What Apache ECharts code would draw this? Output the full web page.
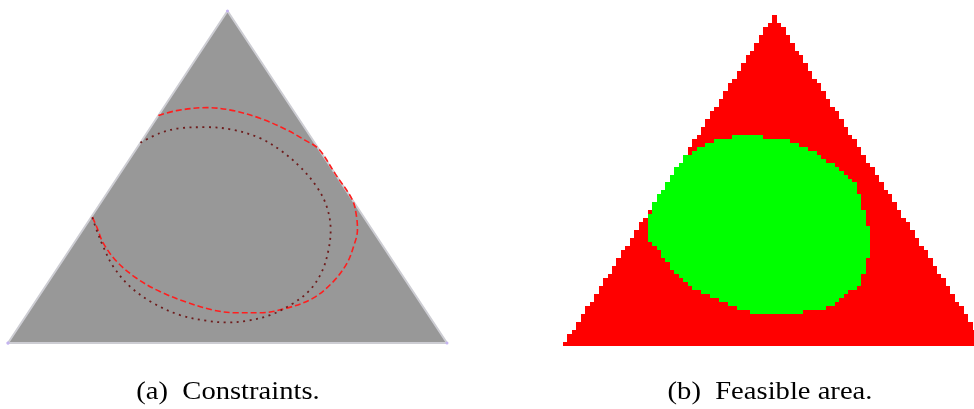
<!DOCTYPE html>
<html>
<head>
<meta charset="utf-8">
<script src="https://cdn.jsdelivr.net/npm/echarts@6/dist/echarts.min.js"></script>
<style>
  html, body { margin: 0; padding: 0; background: #ffffff; }
  #chart { width: 974px; height: 409px; }
</style>
</head>
<body>
<div id="chart"></div>
<script>
// The simplex is drawn in (u, v): u runs along the base (0..1), v from the base (0) up to the apex (1).
const simplexVertices = [[0, 0], [0.5, 1], [1, 0]];

// Constraint boundaries inside the simplex, panel (a).
const dashedConstraint = [
  [0.3425, 0.685], [0.384, 0.700], [0.453, 0.709], [0.513, 0.700], [0.574, 0.677],
  [0.635, 0.642], [0.675, 0.612], [0.708, 0.584], [0.745, 0.510], [0.7845, 0.431],
  [0.794, 0.380], [0.796, 0.340], [0.787, 0.290], [0.772, 0.240], [0.741, 0.185],
  [0.695, 0.135], [0.635, 0.105], [0.574, 0.091], [0.521, 0.091], [0.468, 0.099],
  [0.407, 0.123], [0.346, 0.155], [0.293, 0.195], [0.248, 0.245], [0.217, 0.301],
  [0.202, 0.350], [0.191, 0.3825]
];
const dottedConstraint = [
  [0.3015, 0.603], [0.346, 0.632], [0.392, 0.647], [0.453, 0.650], [0.513, 0.642],
  [0.574, 0.617], [0.620, 0.581], [0.665, 0.531], [0.703, 0.471], [0.726, 0.411],
  [0.735, 0.340], [0.730, 0.280], [0.715, 0.215], [0.688, 0.160], [0.650, 0.120],
  [0.597, 0.084], [0.544, 0.067], [0.498, 0.062], [0.453, 0.067], [0.392, 0.084],
  [0.331, 0.120], [0.278, 0.170], [0.240, 0.230], [0.217, 0.290], [0.202, 0.340],
  [0.191, 0.3825]
];

// Outline of the feasible region, panel (b); clipped to the simplex when sampled.
const feasibleOutline = [
  [0.3712, 0.6269], [0.4208, 0.6360], [0.4539, 0.6360], [0.5154, 0.6269], [0.5461, 0.6163],
  [0.5697, 0.6042], [0.6005, 0.5801], [0.6312, 0.5559], [0.6596, 0.5227], [0.6950, 0.4834],
  [0.7045, 0.4260], [0.7163, 0.3867], [0.7258, 0.3444], [0.7258, 0.2779], [0.7163, 0.2447],
  [0.7045, 0.1782], [0.6832, 0.1692], [0.6643, 0.1480], [0.6430, 0.1269], [0.6217, 0.1148],
  [0.5674, 0.1027], [0.5674, 0.0921], [0.4941, 0.0921], [0.4421, 0.1027], [0.4113, 0.1148],
  [0.3688, 0.1390], [0.3381, 0.1601], [0.3050, 0.1722], [0.2837, 0.1964], [0.2624, 0.2205],
  [0.2435, 0.2568], [0.2222, 0.2900], [0.2057, 0.3142], [0.1962, 0.3444], [0.1962, 0.3867],
  [0.2080, 0.3988], [0.2080, 0.4260], [0.1584, 0.4562], [0.2411, 0.5680], [0.2766, 0.5665],
  [0.3002, 0.5831], [0.3381, 0.6073]
];

// Sampling grid of panel (b).
const gridCols = 95;
const gridRows = 83;

const captions = ['(a)  Constraints.', '(b)  Feasible area.'];

// Even-odd ray test.
function inside(pt, poly) {
  let c = false;
  for (let i = 0, j = poly.length - 1; i < poly.length; j = i++) {
    const [xi, yi] = poly[i], [xj, yj] = poly[j];
    if ((yi > pt[1]) !== (yj > pt[1]) &&
        pt[0] < (xj - xi) * (pt[1] - yi) / (yj - yi) + xi) c = !c;
  }
  return c;
}

// Classify every grid cell: 1 = infeasible, 2 = feasible; cells outside the simplex are left out.
const cells = [];
for (let j = 0; j < gridRows; j++) {
  for (let i = 0; i < gridCols; i++) {
    const p = [(i + 0.5) / gridCols, (j + 0.5) / gridRows];
    if (!inside(p, simplexVertices)) continue;
    cells.push([i, j, inside(p, feasibleOutline) ? 2 : 1]);
  }
}

const colIdx = Array.from({ length: gridCols }, (_, i) => i);
const rowIdx = Array.from({ length: gridRows }, (_, i) => i);

const chart = echarts.init(document.getElementById('chart'), null, { renderer: 'canvas' });
const hiddenValueAxis = (gi) => ({ type: 'value', gridIndex: gi, min: 0, max: 1, show: false });

// Grid cells snapped to whole pixels so neighbouring cells meet without seams.
function renderCell(params, api) {
  const c = api.coord([api.value(0), api.value(1)]);
  const s = api.size([1, 1]);
  const x0 = Math.round(c[0] - s[0] / 2), x1 = Math.round(c[0] + s[0] / 2);
  const y0 = Math.round(c[1] - s[1] / 2), y1 = Math.round(c[1] + s[1] / 2);
  return {
    type: 'rect',
    shape: { x: x0, y: y0, width: x1 - x0, height: y1 - y0 },
    style: { fill: api.visual('color') }
  };
}

const captionFont = '26px "Liberation Serif"';

chart.setOption({
  animation: false,
  backgroundColor: '#ffffff',
  grid: [
    { left: 8, top: 11, width: 439, height: 332, outerBoundsMode: 'none', containLabel: false },
    { left: 563, top: 15, width: 423, height: 331, outerBoundsMode: 'none', containLabel: false }
  ],
  xAxis: [
    hiddenValueAxis(0),
    { type: 'category', gridIndex: 1, data: colIdx, show: false }
  ],
  yAxis: [
    hiddenValueAxis(0),
    { type: 'category', gridIndex: 1, data: rowIdx, show: false }
  ],
  visualMap: {
    show: false,
    type: 'piecewise',
    seriesIndex: 4,
    dimension: 2,
    pieces: [
      { value: 1, color: '#ff0000' },
      { value: 2, color: '#00ff00' }
    ]
  },
  series: [
    { // simplex fill
      type: 'line', xAxisIndex: 0, yAxisIndex: 0,
      data: simplexVertices, showSymbol: false, silent: true,
      lineStyle: { width: 0 },
      areaStyle: { color: '#989898', opacity: 1 }
    },
    { // simplex border
      type: 'line', xAxisIndex: 0, yAxisIndex: 0,
      data: simplexVertices.concat([simplexVertices[0]]),
      symbol: 'circle', symbolSize: 3, showSymbol: true,
      itemStyle: { color: '#c4b4f0', borderWidth: 0 },
      lineStyle: { color: '#cdcdd3', width: 2 }, silent: true
    },
    { // dashed constraint
      type: 'line', xAxisIndex: 0, yAxisIndex: 0,
      data: dashedConstraint, smooth: 0.35, showSymbol: false, silent: true,
      lineStyle: { color: '#ff1e1e', width: 1.6, type: [6, 3] }
    },
    { // dotted constraint
      type: 'line', xAxisIndex: 0, yAxisIndex: 0,
      data: dottedConstraint, smooth: 0.35, showSymbol: false, silent: true,
      lineStyle: { color: '#6e1c1c', width: 1.8, type: [2, 4.5] }
    },
    { // sampled feasibility grid
      type: 'custom', xAxisIndex: 1, yAxisIndex: 1,
      data: cells, renderItem: renderCell, silent: true,
      encode: { x: 0, y: 1 }
    }
  ],
  graphic: [
    {
      type: 'text', x: 228, y: 392, scaleX: 1.1, originX: 0,
      style: { text: captions[0], font: captionFont, fill: '#000', textAlign: 'center', textVerticalAlign: 'middle' }
    },
    {
      type: 'text', x: 770, y: 392, scaleX: 1.1, originX: 0,
      style: { text: captions[1], font: captionFont, fill: '#000', textAlign: 'center', textVerticalAlign: 'middle' }
    }
  ]
});
</script>
</body>
</html>
